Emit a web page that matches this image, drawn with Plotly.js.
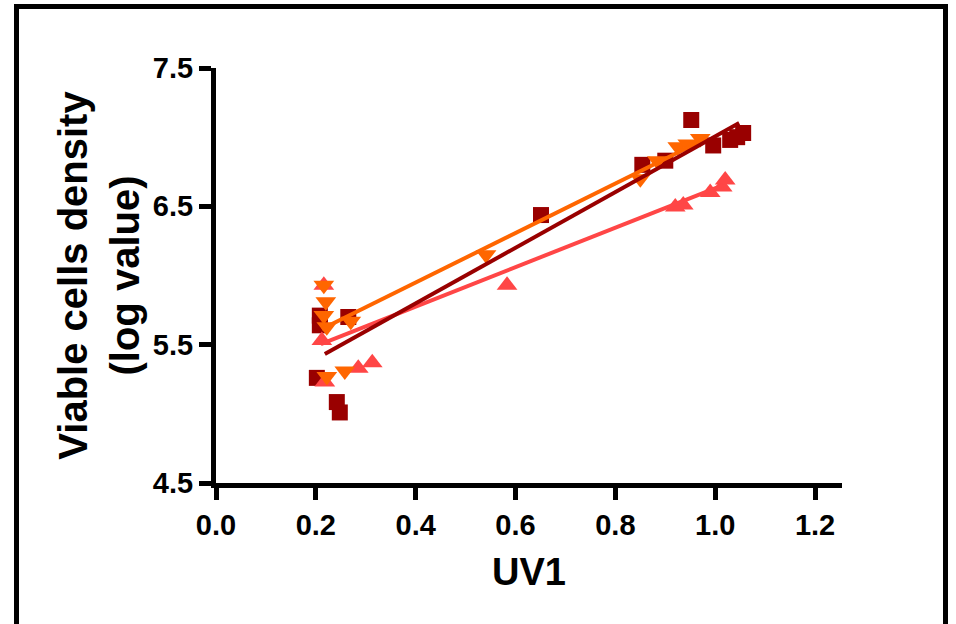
<!DOCTYPE html>
<html>
<head>
<meta charset="utf-8">
<script src="https://cdn.plot.ly/plotly-3.0.1.min.js"></script>
<style>html,body{margin:0;padding:0;background:#fff;}#chart{width:956px;height:624px;}</style>
</head>
<body>
<div id="chart"></div>
<script>
// Series 1: dark red squares
const sqX = [0.208, 0.208, 0.265, 0.202, 0.242, 0.248, 0.651, 0.854, 0.900, 0.952, 0.996, 1.030, 1.044, 1.056];
const sqY = [5.71, 5.64, 5.70, 5.26, 5.085, 5.01, 6.437, 6.80, 6.83, 7.124, 6.94, 6.98, 7.00, 7.03];
// Series 2: orange down triangles
const dnX = [0.216, 0.220, 0.216, 0.222, 0.270, 0.222, 0.258, 0.541, 0.850, 0.884, 0.925, 0.945, 0.970];
const dnY = [5.93, 5.81, 5.71, 5.63, 5.67, 5.27, 5.31, 6.15, 6.70, 6.83, 6.93, 6.95, 6.99];
// Series 3: coral up triangles
const upX = [0.216, 0.212, 0.218, 0.285, 0.313, 0.583, 0.920, 0.936, 0.990, 1.014, 1.020];
const upY = [5.93, 5.53, 5.23, 5.33, 5.37, 5.93, 6.495, 6.51, 6.60, 6.64, 6.69];
// Fitted lines (end points)
const fitSqX = [0.218, 1.048], fitSqY = [5.432, 7.102];
const fitDnX = [0.212, 0.984], fitDnY = [5.613, 6.994];
const fitUpX = [0.210, 1.016], fitUpY = [5.504, 6.654];
// Axis ticks
const xTicks = [0.0, 0.2, 0.4, 0.6, 0.8, 1.0, 1.2];
const xTickText = ['0.0', '0.2', '0.4', '0.6', '0.8', '1.0', '1.2'];
const yTicks = [4.5, 5.5, 6.5, 7.5];
const yTickText = ['4.5', '5.5', '6.5', '7.5'];

const cDark = '#990000', cOrange = '#FF6600', cCoral = '#FF4646';
const FONT = 'Liberation Sans, Arial, sans-serif';

const traces = [
  {x: sqX, y: sqY, mode: 'markers', type: 'scatter', marker: {symbol: 'square', size: 16, color: cDark}},
  {x: upX, y: upY, mode: 'markers', type: 'scatter', marker: {symbol: 'triangle-up', size: 18, color: cCoral}},
  {x: dnX, y: dnY, mode: 'markers', type: 'scatter', marker: {symbol: 'triangle-down', size: 18, color: cOrange}},
  {x: fitUpX, y: fitUpY, mode: 'lines', type: 'scatter', line: {color: cCoral, width: 4}},
  {x: fitDnX, y: fitDnY, mode: 'lines', type: 'scatter', line: {color: cOrange, width: 4}},
  {x: fitSqX, y: fitSqY, mode: 'lines', type: 'scatter', line: {color: cDark, width: 4}}
];

const L = 216, R = 842, T = 68, B = 483;
const W = R - L, H = B - T;
const layout = {
  width: 956, height: 624,
  margin: {l: L, r: 956 - R, t: T, b: 624 - B, pad: 0},
  paper_bgcolor: '#fff', plot_bgcolor: '#fff',
  showlegend: false,
  font: {family: FONT, color: '#000', weight: 'bold'},
  xaxis: {
    range: [0, 1.254], tickvals: xTicks, ticktext: xTickText,
    showgrid: false, zeroline: false, showline: true, linecolor: '#000', linewidth: 5,
    ticks: 'outside', ticklen: 12, tickwidth: 5, tickcolor: '#000',
    tickfont: {family: FONT, size: 29, weight: 'bold', color: '#000'},
    title: {text: 'UV1', font: {family: FONT, size: 38, weight: 'bold', color: '#000'}, standoff: 20}
  },
  yaxis: {
    range: [4.5, 7.5], tickvals: yTicks, ticktext: yTickText,
    showgrid: false, zeroline: false, showline: true, linecolor: '#000', linewidth: 5,
    ticks: 'outside', ticklen: 12, tickwidth: 5, tickcolor: '#000',
    tickfont: {family: FONT, size: 29, weight: 'bold', color: '#000'},
    title: {text: 'Viable cells density<br>(log value)', font: {family: FONT, size: 40, weight: 'bold', color: '#000'}, standoff: 2}
  },
  shapes: [{
    type: 'rect', xref: 'paper', yref: 'paper',
    x0: (16.5 - L) / W, x1: (945.5 - L) / W,
    y0: (B - 628) / H, y1: (B - 6.5) / H,
    line: {color: '#000', width: 5}, fillcolor: 'rgba(0,0,0,0)', layer: 'below'
  }]
};

Plotly.newPlot('chart', traces, layout, {staticPlot: true, displayModeBar: false});
</script>
</body>
</html>
